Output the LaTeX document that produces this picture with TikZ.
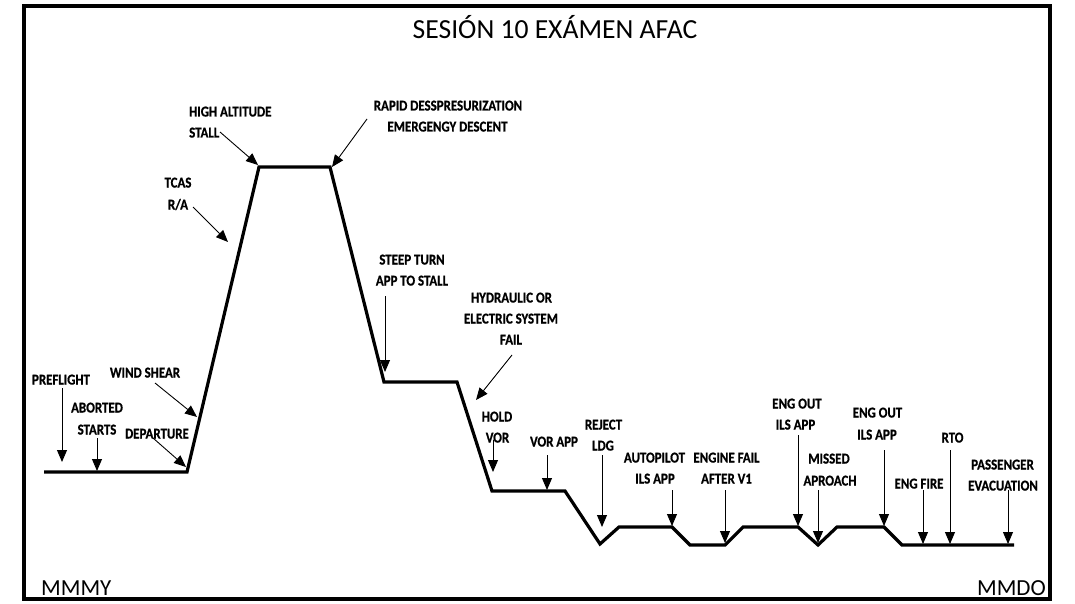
\documentclass[tikz,border=0pt]{standalone}
\usepackage{fontspec}
\setmainfont{Carlito}
\newfontfamily\lblfont{Carlito Bold}[FakeStretch=0.86,FakeBold=0.8]
\usetikzlibrary{arrows.meta}
\begin{document}
\begin{tikzpicture}[x=1pt,y=-1pt,
  lbl/.style={font=\lblfont\fontsize{15}{17}\selectfont,inner sep=0pt,anchor=base},
  lblw/.style={lbl,anchor=base west},
  arr/.style={line width=0.9pt,-{Triangle[length=12pt,width=10pt]}},
  profile/.style={line width=3.2pt,line join=miter},
  frame/.style={line width=3.2pt}]
\useasboundingbox (0,0) rectangle (1075,604);
\draw[frame] (24,6) rectangle (1050,599);
% title and airports
\node[font=\fontsize{27.6}{30}\selectfont,inner sep=0pt,anchor=base] (title) at (555,38.5) {SESIÓN 10 EXÁMEN AFAC};
\node[font=\fontsize{23}{26}\selectfont,inner sep=0pt,anchor=base west] (mmmy) at (41,595) {MMMY};
\node[font=\fontsize{23}{26}\selectfont,inner sep=0pt,anchor=base east] (mmdo) at (1046,595) {MMDO};
% profile vertices
\coordinate (p0) at (44,472);
\coordinate (p1) at (187,472);
\coordinate (p2) at (259,167);
\coordinate (p3) at (330,167);
\coordinate (p4) at (384,382);
\coordinate (p5) at (457,382);
\coordinate (p6) at (492,491);
\coordinate (p7) at (565,491);
\coordinate (p8) at (600,544);
\coordinate (p9) at (619,527);
\coordinate (p10) at (672,527);
\coordinate (p11) at (690,545);
\coordinate (p12) at (725,545);
\coordinate (p13) at (743,527);
\coordinate (p14) at (798,527);
\coordinate (p15) at (818,545);
\coordinate (p16) at (837,527);
\coordinate (p17) at (884,527);
\coordinate (p18) at (902,545);
\coordinate (p19) at (1014,545);
\draw[profile] (p0) -- (p1) -- (p2) -- (p3) -- (p4) -- (p5) -- (p6) -- (p7) -- (p8) -- (p9) -- (p10) -- (p11) -- (p12) -- (p13) -- (p14) -- (p15) -- (p16) -- (p17) -- (p18) -- (p19);
% labels
\node[lblw] (hal1) at (189,116.5) {HIGH ALTITUDE};
\node[lblw] (hal2) at (189,137.5) {STALL};
\node[lbl] (tcas1) at (178,187.5) {TCAS};
\node[lbl] (tcas2) at (178,209.5) {R/A};
\node[lbl] (rap1) at (448,110.5) {RAPID DESSPRESURIZATION};
\node[lbl] (rap2) at (447.5,131.5) {EMERGENGY DESCENT};
\node[lbl] (st1) at (412,264.5) {STEEP TURN};
\node[lbl] (st2) at (412,285.5) {APP TO STALL};
\node[lbl] (hy1) at (511.5,302.5) {HYDRAULIC OR};
\node[lbl] (hy2) at (511,323.5) {ELECTRIC SYSTEM};
\node[lbl] (hy3) at (511,344.5) {FAIL};
\node[lbl] (pf) at (61,384.5) {PREFLIGHT};
\node[lbl] (ws) at (145,377.5) {WIND SHEAR};
\node[lbl] (ab1) at (97,412.5) {ABORTED};
\node[lbl] (ab2) at (97,434.5) {STARTS};
\node[lbl] (dep) at (157,438.5) {DEPARTURE};
\node[lbl] (ho1) at (497,421.5) {HOLD};
\node[lbl] (ho2) at (497.5,442.5) {VOR};
\node[lbl] (va) at (554,446.5) {VOR APP};
\node[lbl] (rj1) at (603.5,429.5) {REJECT};
\node[lbl] (rj2) at (603,450.5) {LDG};
\node[lbl] (ap1) at (654.5,462.5) {AUTOPILOT};
\node[lbl] (ap2) at (655,483.5) {ILS APP};
\node[lbl] (ef1) at (726.5,462.5) {ENGINE FAIL};
\node[lbl] (ef2) at (726.5,483.5) {AFTER V1};
\node[lbl] (eoa1) at (797,408.5) {ENG OUT};
\node[lbl] (eoa2) at (795.5,429.5) {ILS APP};
\node[lbl] (mi1) at (829,463.5) {MISSED};
\node[lbl] (mi2) at (830,485.5) {APROACH};
\node[lbl] (eob1) at (877.5,417.5) {ENG OUT};
\node[lbl] (eob2) at (877,439.5) {ILS APP};
\node[lbl] (rto) at (952.5,442.5) {RTO};
\node[lbl] (fire) at (919,488.5) {ENG FIRE};
\node[lbl] (px1) at (1002.5,469.5) {PASSENGER};
\node[lbl] (px2) at (1003,490.5) {EVACUATION};
% arrow ends
\coordinate (pfS) at (62,388);   \coordinate (pfT) at (62,462);
\coordinate (abS) at (97,438);   \coordinate (abT) at (97,471);
\coordinate (depS) at (153,438); \coordinate (depT) at (186,467);
\coordinate (wsS) at (155,383);  \coordinate (wsT) at (197,417);
\coordinate (tcS) at (193,207);  \coordinate (tcT) at (228,242);
\coordinate (haS) at (220,132);  \coordinate (haT) at (258,165);
\coordinate (raS) at (367,119);  \coordinate (raT) at (332,167);
\coordinate (stS) at (385,296);  \coordinate (stT) at (385,372);
\coordinate (hyS) at (512,355);  \coordinate (hyT) at (476,400);
\coordinate (hoS) at (493,440);  \coordinate (hoT) at (493,472);
\coordinate (vaS) at (547,455);  \coordinate (vaT) at (547,490);
\coordinate (rjS) at (602,455);  \coordinate (rjT) at (602,527);
\coordinate (apS) at (672,490);  \coordinate (apT) at (672,526);
\coordinate (efS) at (725,490);  \coordinate (efT) at (725,543);
\coordinate (eoaS) at (798,435); \coordinate (eoaT) at (798,526);
\coordinate (miS) at (818,490);  \coordinate (miT) at (818,543);
\coordinate (eobS) at (884,450); \coordinate (eobT) at (884,526);
\coordinate (fiS) at (923,490);  \coordinate (fiT) at (923,544);
\coordinate (rtS) at (950,450);  \coordinate (rtT) at (950,544);
\coordinate (pxS) at (1008,490); \coordinate (pxT) at (1008,544);
\foreach \a in {pf,ab,dep,ws,tc,ha,ra,st,hy,ho,va,rj,ap,ef,eoa,mi,eob,fi,rt,px}
  \draw[arr] (\a S) -- (\a T);
\end{tikzpicture}
\end{document}
